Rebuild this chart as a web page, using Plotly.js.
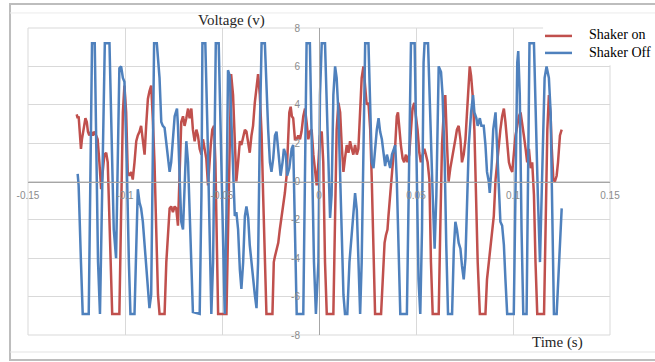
<!DOCTYPE html>
<html>
<head>
<meta charset="utf-8">
<script src="https://cdn.plot.ly/plotly-3.0.1.min.js"></script>
<style>html,body{margin:0;padding:0;background:#fff;}#chart{width:655px;height:362px;}</style>
</head>
<body>
<div id="chart"></div>
<script>
// Time (s) and voltage (V)
const shakerOffTime = [
-0.1244,-0.1239,-0.1227,-0.1218,-0.1187,-0.1180,-0.1173,-0.1170,-0.1156,-0.1149,
-0.1139,-0.1129,-0.1115,-0.1104,-0.1080,-0.1072,-0.1058,-0.1046,-0.1037,-0.1029,
-0.1020,-0.1011,-0.1003,-0.0991,-0.0980,-0.0972,-0.0951,-0.0942,-0.0934,-0.0925,
-0.0917,-0.0908,-0.0899,-0.0887,-0.0874,-0.0865,-0.0856,-0.0850,-0.0836,-0.0830,
-0.0822,-0.0813,-0.0805,-0.0796,-0.0787,-0.0779,-0.0770,-0.0762,-0.0753,-0.0744,
-0.0732,-0.0727,-0.0718,-0.0710,-0.0701,-0.0693,-0.0684,-0.0675,-0.0667,-0.0658,
-0.0650,-0.0615,-0.0606,-0.0601,-0.0586,-0.0575,-0.0563,-0.0555,-0.0546,-0.0538,
-0.0532,-0.0517,-0.0507,-0.0494,-0.0486,-0.0477,-0.0469,-0.0460,-0.0451,-0.0443,
-0.0434,-0.0426,-0.0417,-0.0408,-0.0400,-0.0391,-0.0382,-0.0374,-0.0365,-0.0357,
-0.0348,-0.0340,-0.0331,-0.0322,-0.0314,-0.0305,-0.0296,-0.0279,-0.0271,-0.0262,
-0.0253,-0.0245,-0.0236,-0.0227,-0.0219,-0.0210,-0.0198,-0.0188,-0.0181,-0.0171,
-0.0164,-0.0153,-0.0141,-0.0133,-0.0124,-0.0115,-0.0081,-0.0072,-0.0064,-0.0047,
-0.0038,-0.0026,-0.0016,-0.0003,0.0005,0.0014,0.0031,0.0040,0.0048,0.0057,
0.0065,0.0074,0.0083,0.0091,0.0100,0.0109,0.0117,0.0126,0.0134,0.0146,
0.0157,0.0169,0.0177,0.0186,0.0195,0.0203,0.0212,0.0220,0.0229,0.0238,
0.0255,0.0264,0.0272,0.0281,0.0289,0.0298,0.0307,0.0315,0.0324,0.0332,
0.0341,0.0350,0.0358,0.0367,0.0376,0.0384,0.0393,0.0401,0.0410,0.0419,
0.0453,0.0462,0.0474,0.0493,0.0501,0.0513,0.0522,0.0531,0.0539,0.0544,
0.0562,0.0569,0.0579,0.0586,0.0596,0.0605,0.0617,0.0629,0.0637,0.0648,
0.0656,0.0665,0.0686,0.0695,0.0703,0.0711,0.0720,0.0729,0.0737,0.0746,
0.0755,0.0763,0.0772,0.0784,0.0794,0.0801,0.0811,0.0818,0.0829,0.0837,
0.0849,0.0858,0.0866,0.0875,0.0880,0.0889,0.0898,0.0910,0.0918,0.0927,
0.0935,0.0944,0.0953,0.0961,0.0970,0.1004,0.1013,0.1022,0.1027,0.1035,
0.1044,0.1053,0.1070,0.1078,0.1085,0.1108,0.1116,0.1128,0.1139,0.1151,
0.1163,0.1173,0.1185,0.1194,0.1202,0.1211,0.1225,0.1237,0.1246,0.1251];

const shakerOffVoltage = [
0.4,-0.2,-4.2,-6.9,-6.9,-0.7,6.2,7.2,7.2,2.7,
-4.2,-6.9,0.1,7.2,7.2,3.6,-2.5,-4.0,1.0,5.9,
6.0,5.4,5.2,1.0,-4.2,-6.9,-6.9,-2.5,-0.4,-1.1,
-1.4,-2.1,-3.3,-5.3,-6.6,-5.9,1.0,7.2,7.2,6.4,
5.4,3.1,2.9,2.8,2.0,1.0,0.5,1.0,2.2,3.4,
3.8,2.9,0.1,-2.1,-2.5,0.1,2.1,1.0,-1.6,-5.1,
-6.8,-6.9,-0.7,7.2,7.2,2.7,-4.2,-6.9,-4.2,4.5,
7.2,7.2,2.7,-4.2,-6.9,-1.6,5.8,5.5,2.7,0.1,
-1.8,-1.6,-2.5,-4.6,-5.6,-4.2,-1.8,-1.3,-1.9,-3.3,
-4.2,-5.3,-5.9,-6.6,-4.2,2.7,7.2,7.2,4.5,2.7,
1.0,0.5,1.2,2.4,2.6,1.5,0.3,1.0,1.7,1.4,
0.3,0.7,1.7,1.9,-2.5,-6.9,-6.9,-0.7,7.2,7.2,
2.7,-4.2,-6.9,-4.2,4.5,7.2,7.2,3.6,0.5,-1.9,
-0.7,4.5,6.0,5.4,3.6,0.1,-3.3,-5.9,-6.9,-6.9,
-4.2,-2.8,-1.8,-0.6,-1.5,-4.0,-6.9,-4.2,2.7,7.2,
7.2,3.6,1.0,0.7,1.9,2.7,3.3,2.6,2.2,1.4,
0.8,1.4,1.0,0.7,1.4,1.7,1.9,0.1,-3.3,-6.9,
-6.9,-0.7,7.2,7.2,1.9,-5.1,-6.9,-2.5,6.2,7.2,
7.2,4.5,1.9,-0.7,-3.5,-0.7,6.0,5.7,4.5,1.0,
-3.3,-6.9,-6.9,-3.5,-2.1,-2.5,-3.2,-3.5,-4.4,-5.1,
-4.0,-0.7,1.9,3.6,4.5,3.6,3.3,2.9,3.3,2.9,
2.9,1.9,0.5,0.0,-0.6,0.7,2.7,3.6,1.9,-0.7,
-2.1,-2.3,-3.3,-5.1,-6.9,-6.9,-0.7,6.2,6.8,4.5,
-2.5,-6.9,-6.9,-0.7,7.2,7.2,3.6,-0.7,-4.2,0.0,
5.4,6.0,5.4,3.6,-2.5,-6.9,-6.9,-4.2,-2.8,-1.4];

const shakerOnTime = [
-0.1249,-0.1244,-0.1239,-0.1232,-0.1227,-0.1222,-0.1215,-0.1204,-0.1197,-0.1191,
-0.1184,-0.1175,-0.1166,-0.1158,-0.1149,-0.1141,-0.1132,-0.1123,-0.1115,-0.1106,
-0.1097,-0.1089,-0.1084,-0.1075,-0.1066,-0.1029,-0.1020,-0.1011,-0.1003,-0.0994,
-0.0986,-0.0977,-0.0968,-0.0960,-0.0951,-0.0942,-0.0934,-0.0925,-0.0917,-0.0908,
-0.0899,-0.0891,-0.0882,-0.0874,-0.0865,-0.0856,-0.0848,-0.0839,-0.0830,-0.0822,
-0.0796,-0.0787,-0.0779,-0.0770,-0.0762,-0.0753,-0.0744,-0.0736,-0.0727,-0.0718,
-0.0710,-0.0701,-0.0693,-0.0684,-0.0675,-0.0667,-0.0658,-0.0650,-0.0641,-0.0632,
-0.0624,-0.0615,-0.0606,-0.0598,-0.0589,-0.0581,-0.0572,-0.0567,-0.0558,-0.0550,
-0.0541,-0.0534,-0.0527,-0.0520,-0.0477,-0.0469,-0.0460,-0.0453,-0.0443,-0.0434,
-0.0426,-0.0417,-0.0408,-0.0400,-0.0391,-0.0382,-0.0374,-0.0365,-0.0357,-0.0348,
-0.0340,-0.0331,-0.0322,-0.0314,-0.0305,-0.0296,-0.0288,-0.0279,-0.0271,-0.0240,
-0.0233,-0.0227,-0.0219,-0.0210,-0.0202,-0.0193,-0.0184,-0.0176,-0.0167,-0.0159,
-0.0153,-0.0146,-0.0140,-0.0133,-0.0124,-0.0115,-0.0107,-0.0098,-0.0090,-0.0081,
-0.0072,-0.0064,-0.0055,-0.0047,-0.0038,-0.0029,-0.0021,-0.0012,-0.0003,0.0005,
0.0014,0.0022,0.0031,0.0040,0.0074,0.0083,0.0091,0.0100,0.0109,0.0117,
0.0126,0.0134,0.0143,0.0152,0.0160,0.0169,0.0177,0.0186,0.0195,0.0203,
0.0212,0.0220,0.0229,0.0238,0.0246,0.0255,0.0264,0.0272,0.0281,0.0289,
0.0320,0.0327,0.0338,0.0345,0.0353,0.0358,0.0367,0.0376,0.0384,0.0393,
0.0401,0.0407,0.0413,0.0422,0.0431,0.0439,0.0448,0.0456,0.0465,0.0474,
0.0482,0.0491,0.0500,0.0508,0.0517,0.0525,0.0534,0.0543,0.0551,0.0560,
0.0569,0.0577,0.0586,0.0617,0.0625,0.0634,0.0643,0.0651,0.0660,0.0668,
0.0677,0.0686,0.0694,0.0703,0.0711,0.0720,0.0729,0.0737,0.0746,0.0755,
0.0763,0.0772,0.0777,0.0784,0.0792,0.0801,0.0810,0.0818,0.0829,0.0858,
0.0866,0.0875,0.0884,0.0892,0.0901,0.0910,0.0918,0.0927,0.0935,0.0944,
0.0953,0.0961,0.0970,0.0979,0.0987,0.0996,0.1004,0.1013,0.1022,0.1030,
0.1039,0.1047,0.1056,0.1065,0.1073,0.1082,0.1091,0.1099,0.1108,0.1116,
0.1125,0.1160,0.1168,0.1177,0.1185,0.1194,0.1199,0.1208,0.1216,0.1225,
0.1232,0.1242,0.1251];

const shakerOnVoltage = [
3.5,3.3,3.4,2.4,1.7,2.2,2.7,3.3,3.1,2.6,
2.4,2.6,2.4,2.6,2.4,2.2,1.0,-0.4,0.5,1.4,
1.5,1.0,-0.7,-4.2,-6.9,-6.9,-0.7,3.6,5.0,3.6,
0.5,0.3,0.5,0.1,1.0,2.1,2.4,2.6,2.9,2.1,
1.4,2.9,4.3,4.7,5.0,3.1,1.0,-2.5,-5.9,-6.9,
-6.9,-4.2,-2.5,-1.4,-1.3,-1.6,-1.3,-1.4,-2.3,0.1,
3.1,3.4,2.9,3.3,3.8,3.3,3.8,2.7,2.1,2.7,
2.4,1.7,1.4,2.2,1.7,1.2,-0.2,0.7,1.9,2.7,
2.9,1.0,-2.5,-6.9,-6.9,-2.5,2.7,5.6,4.5,1.9,
0.0,1.0,2.1,1.9,2.4,2.7,2.6,2.1,1.5,2.4,
2.9,4.1,5.0,5.6,4.5,2.5,-0.7,-4.2,-6.9,-6.9,
-4.2,-3.9,-3.5,-3.2,-2.5,-1.9,-1.1,-0.6,0.3,1.9,
3.6,3.9,3.4,3.3,2.2,2.2,2.4,2.2,2.6,3.4,
3.8,3.1,2.2,2.6,2.7,1.4,0.5,-0.2,1.0,2.4,
2.6,1.0,-4.2,-6.9,-6.9,-2.5,2.7,4.1,3.6,1.9,
0.5,1.2,1.9,1.5,2.1,1.7,1.4,1.9,1.4,1.7,
3.6,5.4,6.0,4.8,4.0,4.1,2.7,0.1,-4.2,-6.9,
-6.9,-5.1,-3.2,-2.8,-2.5,-1.8,-0.7,0.7,1.4,1.9,
3.4,3.6,2.7,1.9,1.2,1.0,1.4,1.0,1.4,2.7,
3.8,4.1,3.4,2.7,1.5,1.0,1.4,1.7,1.4,1.0,
0.1,-4.2,-6.9,-6.9,-2.5,1.9,3.6,4.5,1.9,0.0,
0.7,1.2,1.5,2.2,2.7,2.9,2.2,1.0,1.4,2.2,
3.6,5.4,6.0,5.5,4.5,2.7,-0.7,-4.2,-6.9,-6.9,
-5.1,-4.2,-3.3,-2.8,-1.8,0.1,1.0,1.9,2.7,3.4,
3.8,3.1,2.2,1.0,0.7,0.5,1.4,2.4,2.9,3.4,
3.6,3.1,2.4,1.7,1.0,1.7,0.7,1.0,-0.7,-4.2,
-6.9,-6.9,-2.5,2.7,4.5,3.4,1.9,0.1,0.0,0.3,
1.0,2.4,2.7];

const xTickVals = [-0.15,-0.1,-0.05,0,0.05,0.1,0.15];
const xTickText = ['-0.15','-0.1','-0.05','0','0.05','0.1','0.15'];
const yTickVals = [-8,-6,-4,-2,0,2,4,6,8];
const yTickText = ['-8','-6','-4','-2','0','2','4','6','8'];
const seriesNames = ['Shaker on','Shaker Off'];
const seriesColors = ['#c0504d','#4f81bd'];

const serif = '"Liberation Serif", "Times New Roman", serif';
const sans = '"Liberation Sans", Arial, sans-serif';

const traces = [
  {x: shakerOnTime, y: shakerOnVoltage, name: seriesNames[0], type: 'scatter', mode: 'lines',
   line: {color: seriesColors[0], width: 2.5}},
  {x: shakerOffTime, y: shakerOffVoltage, name: seriesNames[1], type: 'scatter', mode: 'lines',
   line: {color: seriesColors[1], width: 2.5}}
];

// legend drawn by hand (sample lines + names) to match the reference placement
const legendRowsY = [0.9772, 0.9218];
const legendShapes = [
  {type: 'rect', xref: 'paper', yref: 'paper', x0: 0.885, x1: 1.09, y0: 0.879, y1: 1.013,
   fillcolor: '#ffffff', line: {width: 0}}
].concat(seriesNames.map((n, i) => ({
  type: 'line', xref: 'paper', yref: 'paper', x0: 0.8883, x1: 0.9347,
  y0: legendRowsY[i] - 0.003, y1: legendRowsY[i] - 0.003,
  line: {color: seriesColors[i], width: 2.5}
})));
const legendTexts = seriesNames.map((n, i) => ({
  text: n, xref: 'paper', yref: 'paper', x: 0.9605, y: legendRowsY[i], showarrow: false,
  xanchor: 'left', yanchor: 'middle', font: {family: serif, size: 14, color: '#000'}
}));

const layout = {
  width: 655, height: 362,
  margin: {l: 28, r: 45, t: 28, b: 27},
  paper_bgcolor: '#ffffff', plot_bgcolor: '#ffffff',
  showlegend: false,
  xaxis: {range: [-0.15, 0.15], tickvals: xTickVals, ticktext: xTickText,
    anchor: 'free', position: 0.5, showgrid: true, gridcolor: '#d9d9d9', gridwidth: 1,
    zeroline: false, showline: true, linecolor: '#a6a6a6', linewidth: 1,
    ticks: 'outside', ticklen: 4, tickcolor: 'rgba(0,0,0,0)',
    tickfont: {family: sans, size: 10, color: '#8c8c8c'}},
  yaxis: {range: [-8, 8], tickvals: yTickVals, ticktext: yTickText,
    anchor: 'free', position: 0.5, showgrid: true, gridcolor: '#d9d9d9', gridwidth: 1,
    zeroline: false, showline: true, linecolor: '#a6a6a6', linewidth: 1,
    ticks: 'outside', ticklen: 17, tickcolor: 'rgba(0,0,0,0)',
    tickfont: {family: sans, size: 10, color: '#8c8c8c'}},
  shapes: [
    {type: 'rect', xref: 'paper', yref: 'paper', x0: 0, x1: 1, y0: 0, y1: 1,
     line: {color: '#d9d9d9', width: 1}, layer: 'below'},
    {type: 'rect', xref: 'paper', yref: 'paper', x0: -0.0309, x1: 1.09, y0: -0.0814, y1: 1.078,
     line: {color: '#bdbdbd', width: 2}},
    {type: 'line', xref: 'paper', yref: 'paper', x0: -0.0309, x1: 1.09, y0: 1.049, y1: 1.049,
     line: {color: '#ebebeb', width: 1}},
    {type: 'line', xref: 'paper', yref: 'paper', x0: -0.0309, x1: 1.09, y0: -0.0554, y1: -0.0554,
     line: {color: '#e3e3e3', width: 1}}
  ].concat(legendShapes),
  annotations: [
    {text: 'Voltage (v)', xref: 'paper', yref: 'paper', x: 0.349, y: 1.026, showarrow: false,
     xanchor: 'center', yanchor: 'middle', font: {family: serif, size: 15, color: '#262626'}},
    {text: 'Time (s)', xref: 'paper', yref: 'paper', x: 0.909, y: -0.026, showarrow: false,
     xanchor: 'center', yanchor: 'middle', font: {family: serif, size: 15, color: '#262626'}}
  ].concat(legendTexts)
};

Plotly.newPlot('chart', traces, layout, {displayModeBar: false, staticPlot: true});
</script>
</body>
</html>
